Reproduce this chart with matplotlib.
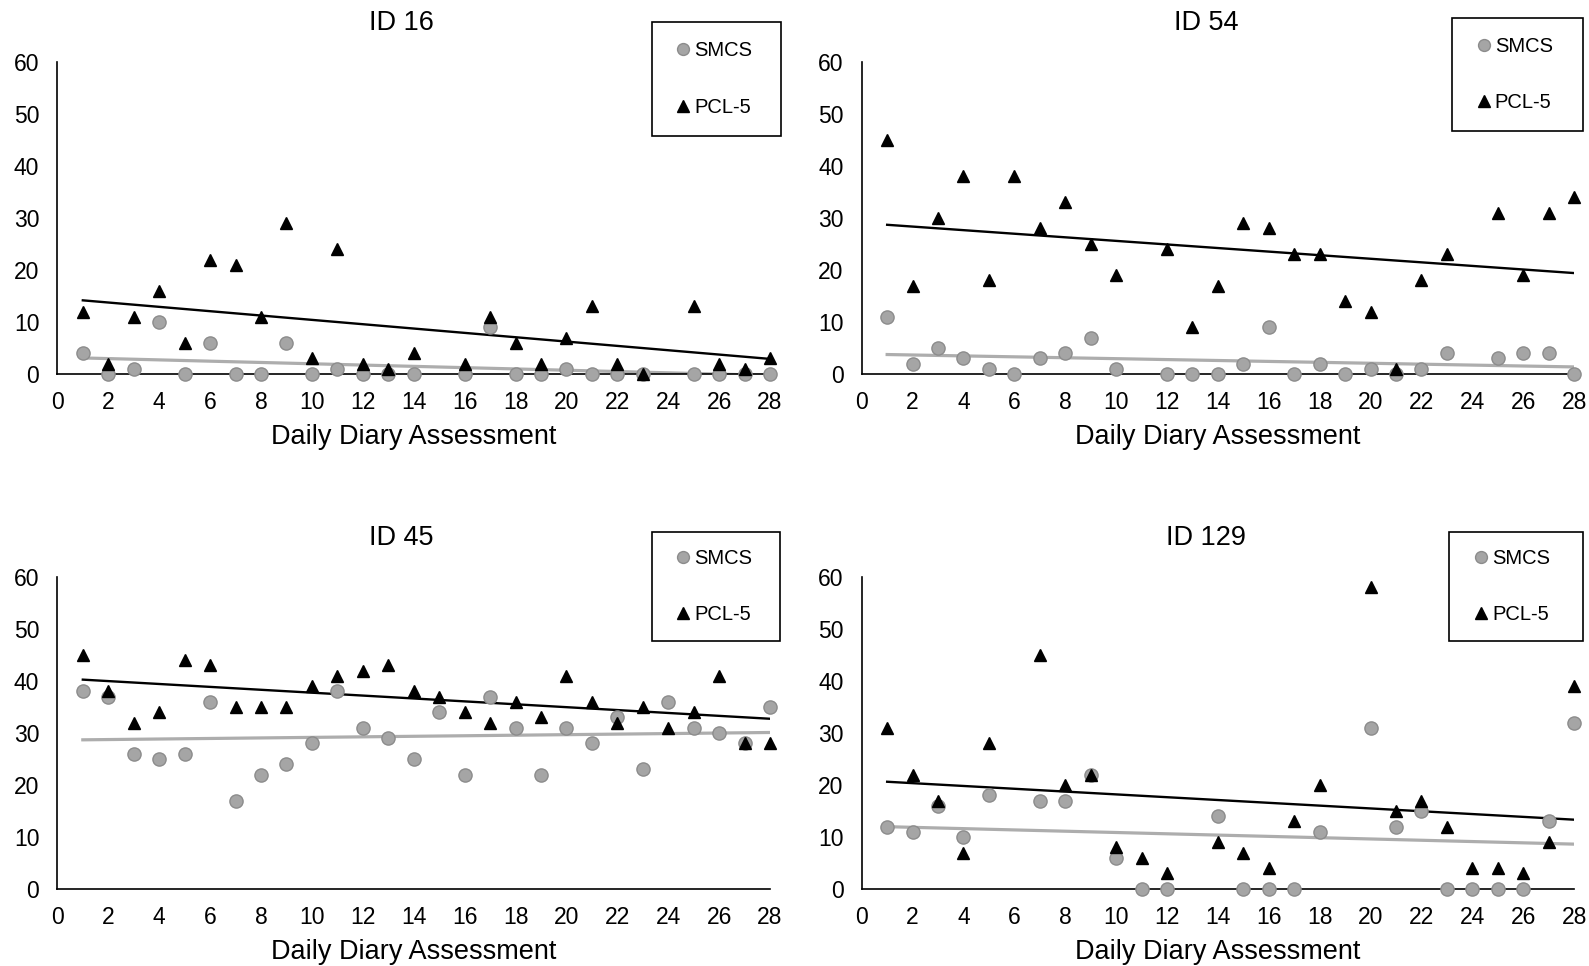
import numpy as np
import matplotlib.pyplot as plt
from matplotlib.patches import Rectangle

plt.rcParams['font.family'] = ['Liberation Sans', 'DejaVu Sans']

days = list(range(1, 29))

# None = no diary entry that day
smcs_16 = [4, 0, 1, 10, 0, 6, 0, 0, 6, 0, 1, 0, 0, 0, None, 0, 9, 0, 0, 1, 0, 0, 0, None, 0, 0, 0, 0]
pcl_16 = [12, 2, 11, 16, 6, 22, 21, 11, 29, 3, 24, 2, 1, 4, None, 2, 11, 6, 2, 7, 13, 2, 0, None, 13, 2, 1, 3]

smcs_54 = [11, 2, 5, 3, 1, 0, 3, 4, 7, 1, None, 0, 0, 0, 2, 9, 0, 2, 0, 1, 0, 1, 4, None, 3, 4, 4, 0]
pcl_54 = [45, 17, 30, 38, 18, 38, 28, 33, 25, 19, None, 24, 9, 17, 29, 28, 23, 23, 14, 12, 1, 18, 23, None, 31, 19, 31, 34]

smcs_45 = [38, 37, 26, 25, 26, 36, 17, 22, 24, 28, 38, 31, 29, 25, 34, 22, 37, 31, 22, 31, 28, 33, 23, 36, 31, 30, 28, 35]
pcl_45 = [45, 38, 32, 34, 44, 43, 35, 35, 35, 39, 41, 42, 43, 38, 37, 34, 32, 36, 33, 41, 36, 32, 35, 31, 34, 41, 28, 28]

smcs_129 = [12, 11, 16, 10, 18, None, 17, 17, 22, 6, 0, 0, None, 14, 0, 0, 0, 11, None, 31, 12, 15, 0, 0, 0, 0, 13, 32]
pcl_129 = [31, 22, 17, 7, 28, None, 45, 20, 22, 8, 6, 3, None, 9, 7, 4, 13, 20, None, 58, 15, 17, 12, 4, 4, 3, 9, 39]

panels = [
    ('ID 16', smcs_16, pcl_16),
    ('ID 54', smcs_54, pcl_54),
    ('ID 45', smcs_45, pcl_45),
    ('ID 129', smcs_129, pcl_129),
]

fig = plt.figure(figsize=(15.89, 9.66), dpi=100)
positions = [
    [0.0361, 0.6128, 0.4485, 0.3233],
    [0.5423, 0.6128, 0.4483, 0.3233],
    [0.0361, 0.0797, 0.4485, 0.3230],
    [0.5423, 0.0797, 0.4483, 0.3230],
]
# legend boxes in axes coords: left, right, bottom, top
legend_boxes = [
    (0.834, 1.0154, 0.762, 1.127),
    (0.829, 1.0126, 0.778, 1.140),
    (0.834, 1.0140, 0.795, 1.144),
    (0.825, 1.0126, 0.795, 1.144),
]

gray = '#A5A5A5'
x = np.array(days, dtype=float)

for i, (title, smcs, pcl) in enumerate(panels):
    ax = fig.add_axes(positions[i])
    s = np.array([np.nan if v is None else v for v in smcs], dtype=float)
    p = np.array([np.nan if v is None else v for v in pcl], dtype=float)

    # linear trendlines
    for vals, col, lw in [(s, '#ADADAD', 2.3), (p, 'black', 1.7)]:
        ok = ~np.isnan(vals)
        k, b = np.polyfit(x[ok], vals[ok], 1)
        xs = np.array([x[ok].min(), x[ok].max()])
        ax.plot(xs, k * xs + b, color=col, lw=lw, zorder=2)

    ax.plot(x, s, 'o', ms=9.5, color=gray, mec='#8C8C8C', mew=1.0,
            label='SMCS', clip_on=False, zorder=3)
    ax.plot(x, p, '^', ms=9, color='black', label='PCL-5',
            clip_on=False, zorder=4)

    ax.set_xlim(0, 28)
    ax.set_ylim(0, 60)
    ax.set_xticks(range(0, 29, 2))
    ax.set_yticks(range(0, 61, 10))
    ax.tick_params(length=0, labelsize=16.5)
    ax.tick_params(axis='y', pad=13)
    ax.tick_params(axis='x', pad=12)
    for side in ['top', 'right']:
        ax.spines[side].set_visible(False)
    for side in ['left', 'bottom']:
        ax.spines[side].set_linewidth(1.2)

    ax.text(0.483, 1.101, title, transform=ax.transAxes, ha='center',
            va='baseline', fontsize=19.5)
    ax.text(0.5, -0.224, 'Daily Diary Assessment', transform=ax.transAxes,
            ha='center', va='baseline', fontsize=19.5)

    l, r, btm, top = legend_boxes[i]
    ax.add_patch(Rectangle((l, btm), r - l, top - btm, transform=ax.transAxes,
                           fill=False, edgecolor='black', lw=1.2,
                           clip_on=False, zorder=5))
    ax.legend(loc='center left', bbox_to_anchor=(l + 0.030, (btm + top) / 2),
              fontsize=14.5, markerscale=0.9, handlelength=1.0,
              handletextpad=0.05, labelspacing=1.85, borderpad=0,
              borderaxespad=0, frameon=False)

plt.savefig('out.png', dpi=100)
